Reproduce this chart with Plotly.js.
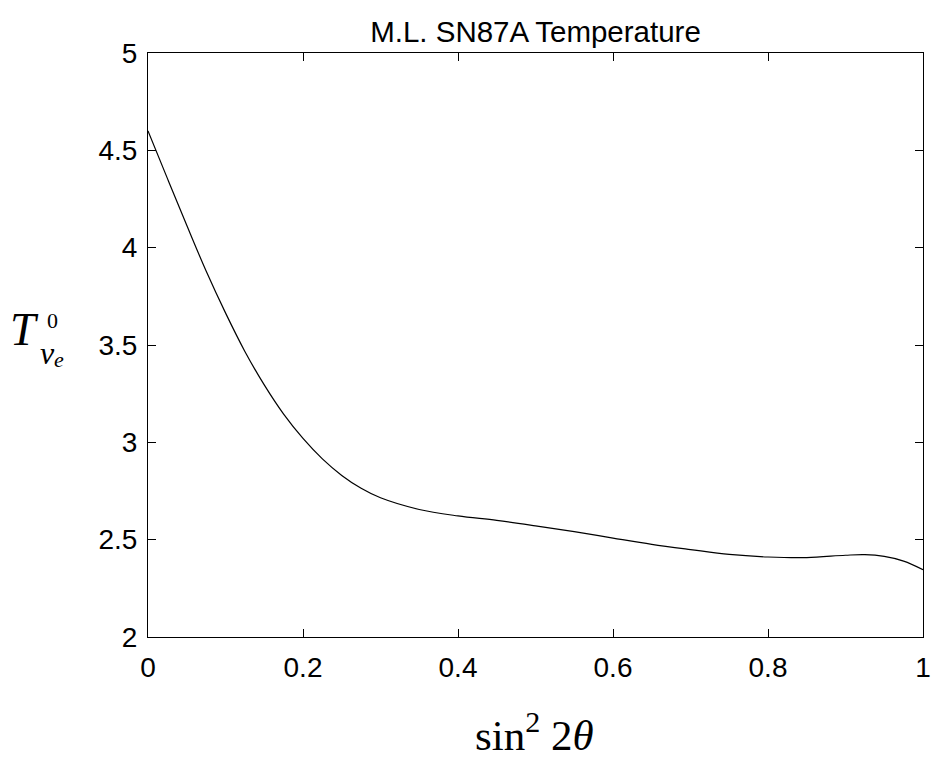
<!DOCTYPE html>
<html>
<head>
<meta charset="utf-8">
<script src="https://cdn.plot.ly/plotly-3.0.1.min.js"></script>
<style>html,body{margin:0;padding:0;background:#fff;}#chart{width:932px;height:760px;}</style>
</head>
<body>
<div id="chart"></div>
<script>
// sin^2(2 theta)
var mixing = [0, 0.025, 0.05, 0.075, 0.1, 0.125, 0.15, 0.175, 0.2, 0.225, 0.25, 0.275, 0.3, 0.35, 0.4, 0.45, 0.5, 0.55, 0.6, 0.65, 0.7, 0.75, 0.8, 0.85, 0.9, 0.925, 0.95, 0.975, 1.0];
// T^0_{nu_e}
var temperature = [4.60, 4.356, 4.115, 3.88, 3.665, 3.467, 3.295, 3.145, 3.02, 2.915, 2.83, 2.764, 2.715, 2.655, 2.622, 2.599, 2.571, 2.541, 2.508, 2.476, 2.449, 2.424, 2.411, 2.408, 2.420, 2.423, 2.414, 2.39, 2.346];
var xTicks = [0, 0.2, 0.4, 0.6, 0.8, 1];
var xTickLabels = ["0", "0.2", "0.4", "0.6", "0.8", "1"];
var yTicks = [2, 2.5, 3, 3.5, 4, 4.5, 5];
var yTickLabels = ["2", "2.5", "3", "3.5", "4", "4.5", "5"];
var chartTitle = "M.L. SN87A Temperature";

var sans = "Liberation Sans, Arial, Helvetica, sans-serif";
var serif = "Liberation Serif, Times New Roman, serif";

var trace = {
  x: mixing, y: temperature, type: "scatter", mode: "lines",
  line: {color: "#000", width: 1.2, shape: "spline", smoothing: 1},
  hoverinfo: "skip"
};

var axisCommon = {
  showgrid: false, zeroline: false, showline: true, linecolor: "#000", linewidth: 1,
  ticks: "inside", ticklen: 8, tickwidth: 1, tickcolor: "#000", mirror: "ticks",
  tickfont: {family: sans, size: 28, color: "#000"}
};

var layout = {
  width: 932, height: 760,
  margin: {l: 148, r: 9, t: 53, b: 123},
  paper_bgcolor: "#fff", plot_bgcolor: "#fff",
  showlegend: false,
  title: {text: chartTitle, font: {family: sans, size: 29.5, color: "#000"},
          x: 0.5, xref: "paper", xanchor: "center", y: 0.958, yref: "container", yanchor: "middle"},
  xaxis: Object.assign({}, axisCommon, {range: [0, 1], tickmode: "array", tickvals: xTicks, ticktext: xTickLabels, ticklabelstandoff: 5}),
  yaxis: Object.assign({}, axisCommon, {range: [2, 5], tickmode: "array", tickvals: yTicks, ticktext: yTickLabels, ticklabelstandoff: 4}),
  annotations: [
    {text: "sin<sup>2</sup> 2<i>θ</i>", xref: "paper", yref: "paper", x: 0.4985, y: -0.162,
     xanchor: "center", yanchor: "middle", showarrow: false, font: {family: serif, size: 43, color: "#000"}},
    {text: "<i>T</i>", xref: "paper", yref: "paper", x: -0.1805, y: 0.5257,
     xanchor: "left", yanchor: "middle", showarrow: false, font: {family: serif, size: 46, color: "#000"}},
    {text: "0", xref: "paper", yref: "paper", x: -0.1335, y: 0.5415,
     xanchor: "left", yanchor: "middle", showarrow: false, font: {family: serif, size: 22, color: "#000"}},
    {text: "<i>ν</i>", xref: "paper", yref: "paper", x: -0.1425, y: 0.4855,
     xanchor: "left", yanchor: "middle", showarrow: false, font: {family: serif, size: 32, color: "#000"}},
    {text: "<i>e</i>", xref: "paper", yref: "paper", x: -0.1235, y: 0.4745,
     xanchor: "left", yanchor: "middle", showarrow: false, font: {family: serif, size: 22, color: "#000"}}
  ]
};

Plotly.newPlot("chart", [trace], layout, {staticPlot: true, displayModeBar: false});
</script>
</body>
</html>
